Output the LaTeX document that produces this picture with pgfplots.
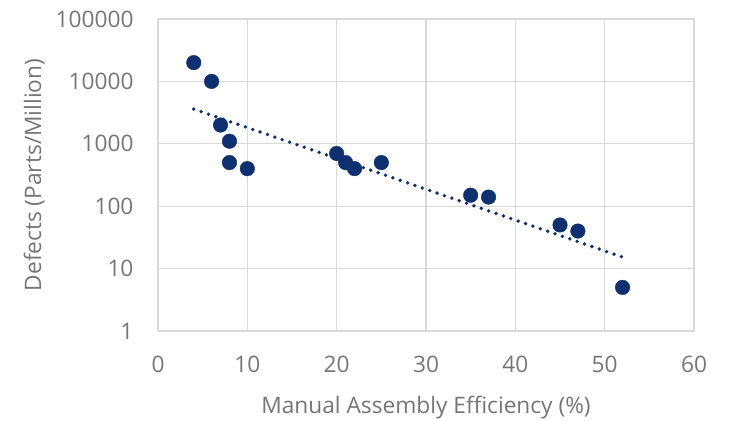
\documentclass[border=0pt]{standalone}
\usepackage{pgfplots}
\pgfplotsset{compat=1.18}
\usepackage{fontspec}
\setmainfont{Open Sans}
\definecolor{navy}{RGB}{14,47,112}
\definecolor{gridc}{RGB}{217,217,217}
\definecolor{txt}{RGB}{118,118,118}
\begin{document}
\begin{tikzpicture}
\useasboundingbox (0pt,0pt) rectangle (735pt,420pt);
\begin{axis}[
  at={(158pt,89pt)}, anchor=south west,
  scale only axis, width=536pt, height=312pt,
  xmin=0, xmax=60, ymode=log, ymin=1, ymax=100000,
  xtick={0,10,...,60},
  ytick={1,10,100,1000,10000,100000},
  yticklabels={1,10,100,1000,10000,100000},
  minor ytick={}, 
  log basis y=10,
  axis line style={draw=none},
  grid=major, major grid style={gridc, line width=1.3pt},
  tick style={draw=none},
  font=\fontsize{22.7}{26}\selectfont,
  ticklabel style={txt},
  /pgf/number format/assume math mode=true,
  xticklabel style={yshift=-22pt},
  yticklabel style={xshift=-21pt},
  xlabel={Manual Assembly Efficiency (\%)},
  ylabel={Defects (Parts/Million)},
  label style={txt},
  xlabel style={yshift=-16pt},
  ylabel style={yshift=4pt},
  clip=false,
]
\addplot[navy, only marks, mark=*, mark size=7.3pt, mark options={draw=navy, fill=navy}] coordinates {
(4,20000) (6,10000) (7,2000) (8,1100) (8,500) (10,400)
(20,700) (21,500) (22,400) (25,500)
(35,150) (37,140) (45,50) (47,40) (52,5)
};
\addplot[navy, line width=3.8pt, line cap=round, dash pattern=on 0pt off 7.8pt] coordinates {(4,3600) (52,15.3)};
\end{axis}
\end{tikzpicture}
\end{document}
